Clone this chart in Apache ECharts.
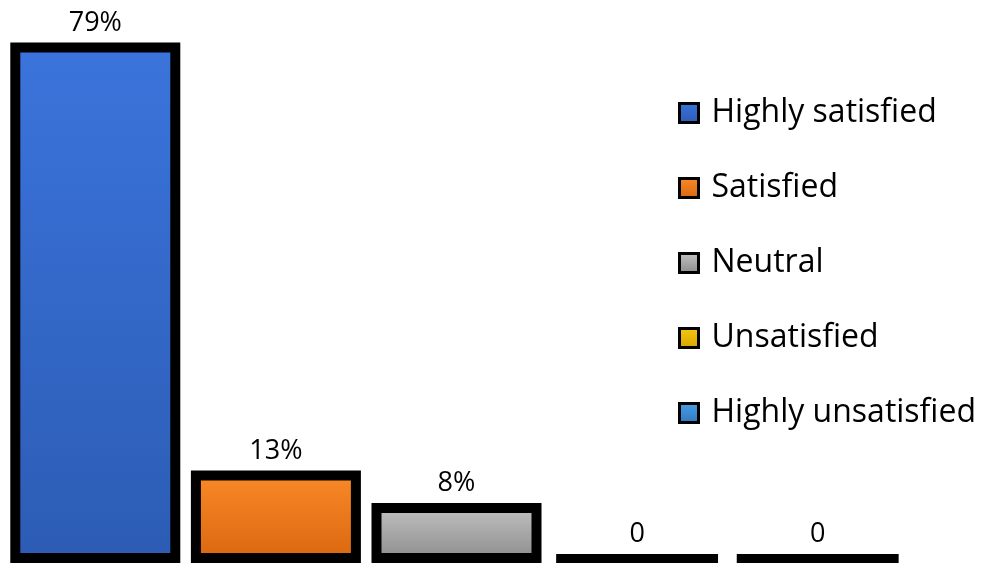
<!DOCTYPE html>
<html lang="en">
<head>
	<meta charset="UTF-8">
	<title>Satisfaction</title>
	<script src="https://cdn.jsdelivr.net/npm/echarts@6/dist/echarts.min.js"></script>
	<style>
		html, body { margin:0; padding:0; background:#fff; }
		#chart { width:987px; height:563px; }
	</style>
</head>
<body>
	<div id="chart"></div>
	<script>
	// data
	var categories = ['Highly satisfied', 'Satisfied', 'Neutral', 'Unsatisfied', 'Highly unsatisfied'];
	var values = [79, 13, 8, 0, 0];
	var colorTop = ['#3b74dc', '#fb8a28', '#c4c4c4', '#f6c90e', '#4a9fe6'];
	var colorBottom = ['#2c5cb4', '#d9660f', '#8a8a8a', '#d9a300', '#2f78bf'];

	var chart = echarts.init(document.getElementById('chart'));

	function grad(i) {
		return new echarts.graphic.LinearGradient(0, 0, 0, 1, [
			{offset: 0, color: colorTop[i]},
			{offset: 1, color: colorBottom[i]}
		]);
	}

	// one series per category so every bar gets its own legend entry
	var series = categories.map(function(name, i){
		var d = categories.map(function(c, j){ return j === i ? values[i] : null; });
		return {
			name: name,
			type: 'bar',
			barWidth: 170,
			barGap: '-100%',
			itemStyle: {
				color: grad(i),
				borderColor: '#000',
				borderWidth: 10
			},
			label: {
				show: true,
				position: 'top',
				distance: 6,
				color: '#000',
				fontFamily: 'Open Sans',
				fontSize: 27,
				formatter: function(p){ return p.value === 0 ? '0' : p.value + '%'; }
			},
			data: d
		};
	});

	var option = {
		animation: false,
		grid: { left: 5, right: 79, top: 36, bottom: 0 },
		legend: {
			orient: 'vertical',
			left: 678,
			top: 97,
			padding: 0,
			itemWidth: 19,
			itemHeight: 19,
			itemGap: 43,
			icon: 'rect',
			itemStyle: { borderColor: '#000', borderWidth: 3 },
			textStyle: { color: '#000', fontFamily: 'Open Sans', fontSize: 32, padding: [0, 0, 0, 8] },
			data: categories
		},
		xAxis: {
			type: 'category',
			data: categories,
			show: false
		},
		yAxis: {
			type: 'value',
			min: -1.25,
			max: 80,
			startValue: -1.25,
			show: false
		},
		series: series
	};
	chart.setOption(option);
	</script>
</body>
</html>
